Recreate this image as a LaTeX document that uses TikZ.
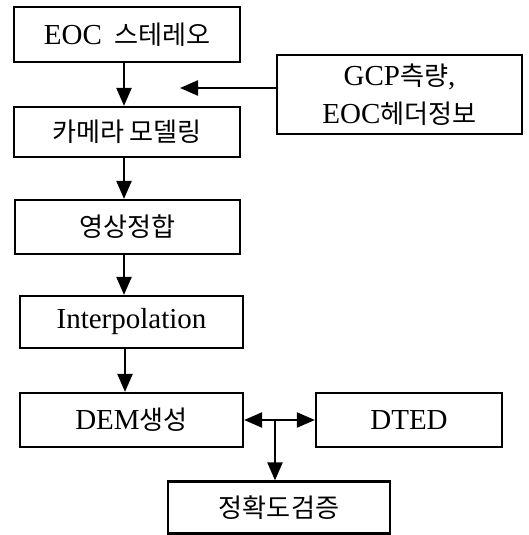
\documentclass[tikz,border=0pt]{standalone}
\usepackage{fontspec}
\setmainfont{Liberation Serif}
\newfontfamily\kr[Scale=0.9]{Noto Sans CJK KR}
\usetikzlibrary{arrows.meta}
\begin{document}
\begin{tikzpicture}[x=1pt,y=-1pt,
  box/.style={draw,line width=2.2pt,rectangle,inner sep=0pt,font=\fontsize{29}{34}\selectfont},
  arr/.style={line width=2.2pt,-{Triangle[length=18pt,width=15pt]}}]
\useasboundingbox (0,0) rectangle (529,535);
\node[box,minimum width=226,minimum height=55] (b1) at (127,34.5) {EOC\, {\kr 스테레오}};
\node[box,minimum width=226,minimum height=50] (b2) at (127,132) {{\kr 카메라 모델링}};
\node[box,minimum width=225,minimum height=54] (b3) at (127.5,227) {{\kr 영상정합}};
\node[box,minimum width=223,minimum height=52] (b4) at (131.5,322) {Interpolation};
\node[box,minimum width=223,minimum height=54] (b5) at (131.5,420) {DEM{\kr 생성}};
\node[box,minimum width=186,minimum height=54] (dted) at (409,420) {DTED};
\node[box,minimum width=245,minimum height=79,align=center,font=\fontsize{29}{38}\selectfont] (gcp) at (399.5,94.5) {GCP{\kr 측량},\\EOC{\kr 헤더정보}};
\node[box,minimum width=222,minimum height=52] (acc) at (279,507.5) {{\kr 정확도검증}};
\coordinate (x1) at (124,0);
\coordinate (x2) at (125,0);
\coordinate (tip) at (180,88);
\coordinate (j) at (275,420);
\draw[arr] (b1.south -| x1) -- (b2.north -| x1);
\draw[arr] (b2.south -| x1) -- (b3.north -| x1);
\draw[arr] (b3.south -| x1) -- (b4.north -| x1);
\draw[arr] (b4.south -| x2) -- (b5.north -| x2);
\draw[arr] (tip -| gcp.west) -- (tip);
\draw[arr] (j) -- (b5.east);
\draw[arr] (j) -- (dted.west);
\draw[arr] (j) -- (acc.north -| j);
\end{tikzpicture}
\end{document}
